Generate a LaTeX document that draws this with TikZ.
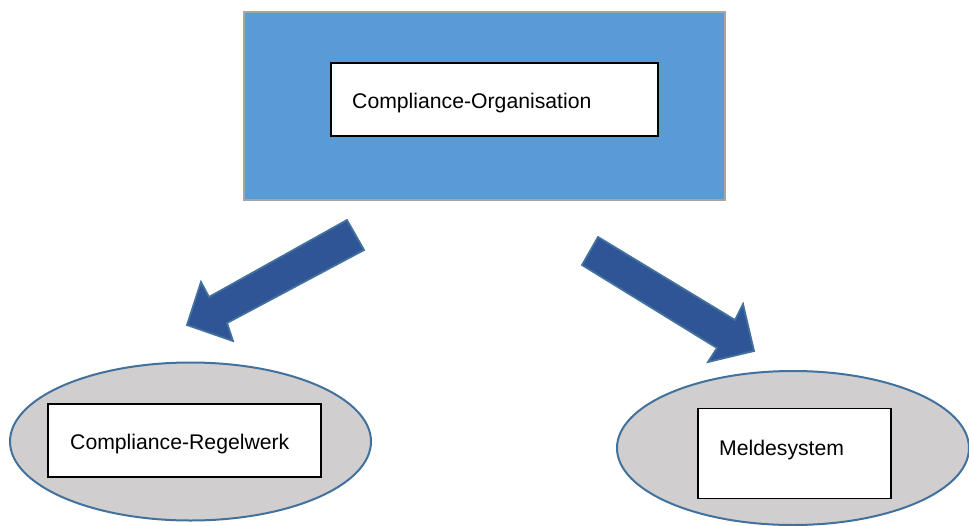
\documentclass[tikz,border=0pt]{standalone}
\usepackage{fontspec}
\setmainfont{Liberation Sans}
\usetikzlibrary{shapes.geometric}
\definecolor{orgblue}{HTML}{5B9BD5}
\definecolor{orgframe}{HTML}{A5A5A5}
\definecolor{ellfill}{HTML}{D0CECE}
\definecolor{ellline}{HTML}{41719C}
\definecolor{arrfill}{HTML}{2F5597}
\begin{document}
\begin{tikzpicture}[x=1pt,y=-1pt,
  outerbox/.style={draw=orgframe, fill=orgblue, line width=1.5pt, inner sep=0pt},
  whitebox/.style={draw=black, fill=white, line width=1.8pt, inner sep=0pt},
  oval/.style={ellipse, draw=ellline, fill=ellfill, line width=2pt, inner sep=0pt},
  lbl/.style={inner sep=0pt, anchor=west, font=\fontsize{21.2}{25}\selectfont},
  blockarrow/.style={draw=ellline, fill=arrfill, line width=1.8pt, line join=miter}]
\useasboundingbox (0,0) rectangle (969,525);
% top block
\node[outerbox, minimum width=481pt, minimum height=188pt] (top) at (484.5,106) {};
\node[whitebox, minimum width=327pt, minimum height=73pt] (orgbox) at (494.5,99.5) {};
\node[lbl] (orgtxt) at (352,103) {Compliance-Organisation};
% left oval
\node[oval, minimum width=361pt, minimum height=158pt] (lov) at (190.5,441.5) {};
\node[whitebox, minimum width=273pt, minimum height=73pt] (regbox) at (184.5,440.5) {};
\node[lbl] (regtxt) at (70,444) {Compliance-Regelwerk};
% right oval
\node[oval, minimum width=352pt, minimum height=154pt] (rov) at (793,448) {};
\node[whitebox, minimum width=193pt, minimum height=90pt] (melbox) at (794.5,453.5) {};
\node[lbl] (meltxt) at (719,450.5) {Meldesystem};
% block arrows
\draw[blockarrow] (347,220) -- (364,250) -- (227,323) -- (233,341) -- (187,325)
  -- (201,282) -- (209,297) -- cycle;
\draw[blockarrow] (598,237) -- (735,320) -- (743,304) -- (754,351) -- (708,362)
  -- (717,348) -- (582,265) -- cycle;
\end{tikzpicture}
\end{document}
